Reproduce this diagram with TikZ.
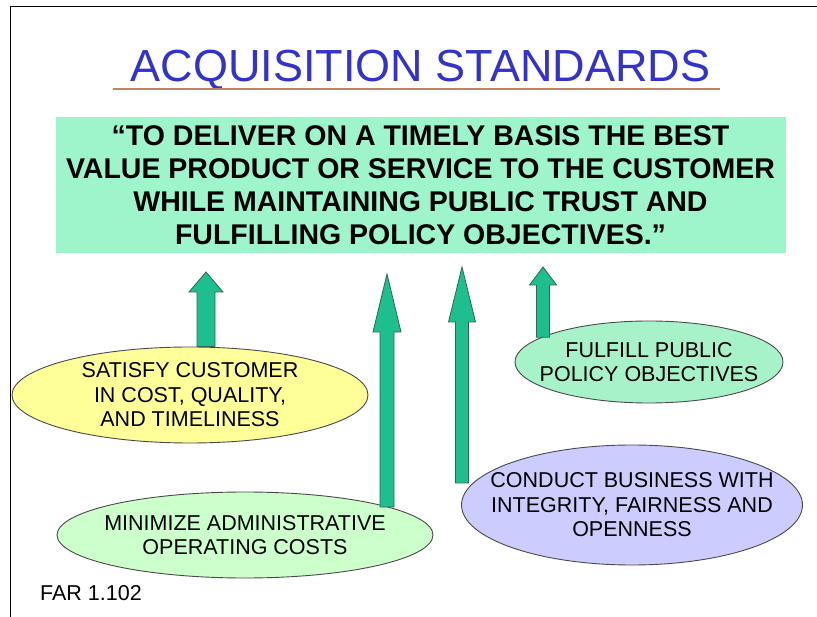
\documentclass[tikz,border=0pt]{standalone}
\usepackage{fontspec}
\setmainfont{Liberation Sans}
\usepackage{tikz}
\usetikzlibrary{positioning,calc,shapes.geometric}
\definecolor{cazul}{HTML}{3333CC}
\definecolor{cmenta}{HTML}{9EF5CB}
\definecolor{cverde}{HTML}{1DBF8F}
\definecolor{cverdeosc}{HTML}{2F6656}
\definecolor{camarillo}{HTML}{FFFF99}
\definecolor{cpoliza}{HTML}{A8F2C9}
\definecolor{cverdeclaro}{HTML}{CCFFCC}
\definecolor{clila}{HTML}{CCCCFF}
\definecolor{cmarron}{HTML}{C08462}
\definecolor{cgris}{HTML}{4A4A4A}
\tikzset{
  titulo/.style={font=\fontsize{45}{50}\selectfont, text=cazul, inner sep=0pt},
  lema/.style={rectangle, fill=cmenta, minimum width=730pt, minimum height=136pt,
    align=center, font=\bfseries\fontsize{28.5}{33}\selectfont, inner sep=0pt},
  elipse/.style={ellipse, draw=cgris, line width=0.9pt, inner sep=0pt},
  etq/.style={font=\fontsize{21.5}{24.5}\selectfont, align=center, inner sep=0pt},
  flecha/.style={fill=cverde, draw=cverdeosc, line width=0.8pt, line join=miter},
}
% block arrow: base, tip, head length, shaft half width, head half width
\newcommand{\flechon}[5]{%
  \draw[flecha] let \p1=(#1), \p2=(#2) in
    (\x1-#4,\y1) -- (\x2-#4,\y2-#3) -- (\x2-#5,\y2-#3) -- (\x2,\y2)
    -- (\x2+#5,\y2-#3) -- (\x2+#4,\y2-#3) -- (\x1+#4,\y1) -- cycle;}

\begin{document}
\begin{tikzpicture}[x=1pt, y=-1pt]
  \fill[white] (0,0) rectangle (817,617);
  \useasboundingbox (0,0) rectangle (817,617);
  \draw[line width=1.3pt] (10.5,617) -- (10.5,6.5) -- (817,6.5);

  \node[titulo, anchor=base] (title) at (420.5,82) {ACQUISITION STANDARDS};
  \draw[cmarron, line width=2pt] (113,89) -- (720,89);

  \node[lema] (goal) at (420.5,185) {“TO DELIVER ON A TIMELY BASIS THE BEST\\
    VALUE PRODUCT OR SERVICE TO THE CUSTOMER\\
    WHILE MAINTAINING PUBLIC TRUST AND\\
    FULFILLING POLICY OBJECTIVES.”};

  \node[elipse, fill=camarillo, minimum width=356pt, minimum height=96pt] (customer) at (190,395) {};
  \node[etq] (customer-txt) at (customer) {SATISFY CUSTOMER\\IN COST, QUALITY,\\AND TIMELINESS};

  \node[elipse, fill=cpoliza, minimum width=268pt, minimum height=82pt] (policy) at (649,362) {};
  \node[etq] (policy-txt) at (policy) {FULFILL PUBLIC\\POLICY OBJECTIVES};

  \node[elipse, fill=cverdeclaro, minimum width=376pt, minimum height=86pt] (costs) at (245,535) {};
  \node[etq] (costs-txt) at (costs) {MINIMIZE ADMINISTRATIVE\\OPERATING COSTS};

  \node[elipse, fill=clila, minimum width=341pt, minimum height=120pt] (integrity) at (632,505) {};
  \node[etq] (integrity-txt) at (integrity) {CONDUCT BUSINESS WITH\\INTEGRITY, FAIRNESS AND\\OPENNESS};

  \node[etq, anchor=base west] (far) at (40,600) {FAR 1.102};

  % arrow tips under the statement
  \coordinate (tipA) at (206,272);
  \coordinate (tipB) at (387,274);
  \coordinate (tipC) at (462,267);
  \coordinate (tipD) at (543,267);
  \coordinate (baseC) at (462,483);

  \flechon{tipA |- customer.north}{tipA}{20pt}{9pt}{17pt}
  \flechon{tipB |- costs.11}{tipB}{58pt}{7pt}{14pt}
  \flechon{baseC}{tipC}{55pt}{6.5pt}{13.5pt}
  \flechon{tipD |- policy.167}{tipD}{18pt}{6.5pt}{13.5pt}
\end{tikzpicture}
\end{document}
